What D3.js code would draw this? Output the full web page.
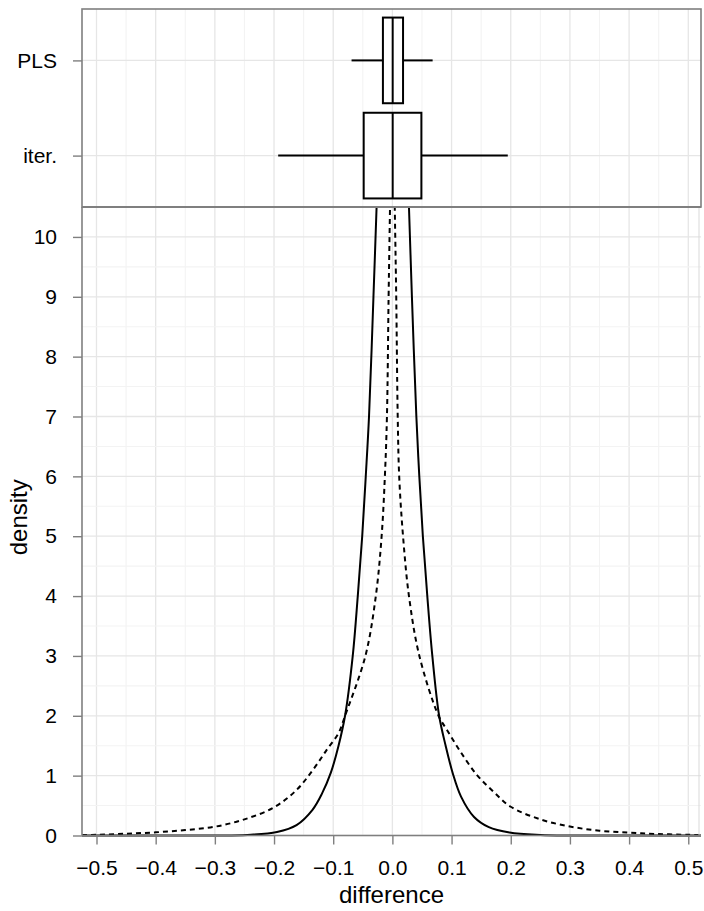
<!DOCTYPE html>
<html>
<head>
<meta charset="utf-8">
<script src="https://cdn.jsdelivr.net/npm/d3@7"></script>
<style>
  body { margin: 0; background: #fff; }
  text { font-family: "Liberation Sans", Arial, sans-serif; fill: #000; }
</style>
</head>
<body>
<script>
// axis settings
var xDomain = [-0.5245, 0.5215];
var yDomain = [0, 10.5];
var xTicks = [-0.5, -0.4, -0.3, -0.2, -0.1, 0.0, 0.1, 0.2, 0.3, 0.4, 0.5];
var yTicks = [0, 1, 2, 3, 4, 5, 6, 7, 8, 9, 10];

// box plots (top panel)
var groups = ["PLS", "iter."];
var boxLow = [-0.069, -0.193];
var boxQ1 = [-0.016, -0.0485];
var boxMed = [0.0005, 0.0005];
var boxQ3 = [0.018, 0.049];
var boxHigh = [0.068, 0.195];

// density of PLS differences (solid)
var plsX = [-0.5245, -0.30, -0.245, -0.195, -0.162, -0.135, -0.119, -0.104, -0.091, -0.080, -0.067, -0.0585, -0.051, -0.045, -0.0395, -0.032, -0.0267, -0.015, 0,
            0.015, 0.028, 0.033, 0.0405, 0.0455, 0.0515, 0.059, 0.0675, 0.079, 0.090, 0.102, 0.116, 0.138, 0.163, 0.198, 0.25, 0.30, 0.5215];
var plsY = [0, 0, 0.01, 0.06, 0.175, 0.43, 0.70, 1.05, 1.5, 2.0, 3.0, 4.0, 5.0, 6.0, 7.0, 9.0, 10.5, 14, 17.5,
            14, 10.5, 9.0, 7.0, 6.0, 5.0, 4.0, 3.0, 2.0, 1.5, 1.04, 0.65, 0.31, 0.14, 0.05, 0.01, 0, 0];

// density of iterative differences (dashed)
var iterX = [-0.5245, -0.5, -0.45, -0.4, -0.35, -0.3, -0.25, -0.2, -0.162, -0.134, -0.111, -0.091, -0.080, -0.0456, -0.028, -0.0182, -0.0127, -0.0092, -0.0064, -0.004, 0,
             0.004, 0.0065, 0.009, 0.0115, 0.018, 0.028, 0.0456, 0.078, 0.0925, 0.115, 0.143, 0.171, 0.2, 0.25, 0.3, 0.35, 0.4, 0.446, 0.5, 0.5215];
var iterY = [0.008, 0.012, 0.03, 0.053, 0.09, 0.147, 0.27, 0.47, 0.76, 1.1, 1.43, 1.71, 2.0, 3.0, 4.0, 5.0, 6.0, 7.0, 9.0, 10.5, 13,
             10.5, 9.0, 7.0, 6.0, 5.0, 4.0, 3.0, 2.0, 1.76, 1.40, 1.01, 0.73, 0.48, 0.27, 0.15, 0.08, 0.047, 0.025, 0.012, 0.008];

var svg = d3.select("body").append("svg")
    .attr("width", 704)
    .attr("height", 911);

var pLeft = 82, pRight = 701, pTop = 9, pSplit = 207, pBottom = 835.5;
var axisGrey = "#7f7f7f";

var x = d3.scaleLinear().domain(xDomain).range([pLeft, pRight]);
var y = d3.scaleLinear().domain(yDomain).range([pBottom, pSplit]);
var yb = d3.scalePoint().domain(groups).range([pTop, pSplit]).padding(0.54);

var minorX = d3.range(-0.55, 0.56, 0.1).map(function (d) { return +d.toFixed(2); })
    .filter(function (d) { return d > xDomain[0] && d < xDomain[1]; });
var minorY = d3.range(0.5, 10.5, 1);

// grid, both panels
var grid = svg.append("g");
[[pTop, pSplit], [pSplit, pBottom]].forEach(function (p) {
  grid.selectAll(null).data(minorX).enter().append("line")
      .attr("x1", x).attr("x2", x).attr("y1", p[0]).attr("y2", p[1])
      .attr("stroke", "#f3f3f3").attr("stroke-width", 1.1);
  grid.selectAll(null).data(xTicks).enter().append("line")
      .attr("x1", x).attr("x2", x).attr("y1", p[0]).attr("y2", p[1])
      .attr("stroke", "#e6e6e6").attr("stroke-width", 1.3);
});
grid.selectAll(null).data(minorY).enter().append("line")
    .attr("x1", pLeft).attr("x2", pRight).attr("y1", y).attr("y2", y)
    .attr("stroke", "#f3f3f3").attr("stroke-width", 1.1);
grid.selectAll(null).data(yTicks).enter().append("line")
    .attr("x1", pLeft).attr("x2", pRight).attr("y1", y).attr("y2", y)
    .attr("stroke", "#e6e6e6").attr("stroke-width", 1.3);
grid.selectAll(null).data(groups).enter().append("line")
    .attr("x1", pLeft).attr("x2", pRight).attr("y1", yb).attr("y2", yb)
    .attr("stroke", "#e6e6e6").attr("stroke-width", 1.3);

// box plots
var bw = yb.step() * 0.9;
var boxes = svg.append("g").selectAll("g")
    .data(groups).enter().append("g")
    .attr("fill", "none").attr("stroke", "#000").attr("stroke-width", 2);
boxes.append("line")
    .attr("x1", function (d, i) { return x(boxLow[i]); })
    .attr("x2", function (d, i) { return x(boxQ1[i]); })
    .attr("y1", yb).attr("y2", yb);
boxes.append("line")
    .attr("x1", function (d, i) { return x(boxQ3[i]); })
    .attr("x2", function (d, i) { return x(boxHigh[i]); })
    .attr("y1", yb).attr("y2", yb);
boxes.append("rect")
    .attr("x", function (d, i) { return x(boxQ1[i]); })
    .attr("width", function (d, i) { return x(boxQ3[i]) - x(boxQ1[i]); })
    .attr("y", function (d) { return yb(d) - bw / 2; })
    .attr("height", bw)
    .attr("fill", "#fff");
boxes.append("line")
    .attr("x1", function (d, i) { return x(boxMed[i]); })
    .attr("x2", function (d, i) { return x(boxMed[i]); })
    .attr("y1", function (d) { return yb(d) - bw / 2; })
    .attr("y2", function (d) { return yb(d) + bw / 2; });

// density curves
svg.append("clipPath").attr("id", "clip")
  .append("rect").attr("x", pLeft).attr("y", pSplit).attr("width", pRight - pLeft).attr("height", pBottom - pSplit + 2);

var line = d3.line()
    .x(function (d) { return x(d[0]); })
    .y(function (d) { return y(Math.max(0, d[1])); })
    .curve(d3.curveCatmullRom.alpha(0.5));

var curves = svg.append("g").attr("clip-path", "url(#clip)")
    .attr("fill", "none").attr("stroke", "#000").attr("stroke-width", 2);
curves.append("path")
    .attr("d", line(d3.zip(plsX, plsY)));
curves.append("path")
    .attr("stroke-dasharray", "5,4")
    .attr("d", line(d3.zip(iterX, iterY)));

// axes
var xAxis = svg.append("g")
    .attr("transform", "translate(0," + pBottom + ")")
    .call(d3.axisBottom(x).tickValues(xTicks).tickSize(9).tickSizeOuter(0).tickPadding(16)
      .tickFormat(d3.format(".1f")));
var yAxis = svg.append("g")
    .attr("transform", "translate(" + pLeft + ",0)")
    .call(d3.axisLeft(y).tickValues(yTicks).tickSize(9).tickSizeOuter(0).tickPadding(16));
var gAxis = svg.append("g")
    .attr("transform", "translate(" + pLeft + ",0)")
    .call(d3.axisLeft(yb).tickSize(9).tickSizeOuter(0).tickPadding(16));

[xAxis, yAxis, gAxis].forEach(function (a) {
  a.selectAll("text").style("font-size", "21px").attr("fill", "#000");
  a.selectAll(".tick line").attr("stroke", axisGrey).attr("stroke-width", 1.4);
  a.select(".domain").remove();
});

// panel frames
svg.append("rect")
    .attr("x", pLeft).attr("y", pTop).attr("width", pRight - pLeft).attr("height", pSplit - pTop)
    .attr("fill", "none").attr("stroke", axisGrey).attr("stroke-width", 1.6);
svg.append("line")
    .attr("x1", pRight - 2).attr("x2", pRight - 2).attr("y1", pSplit).attr("y2", pBottom)
    .attr("stroke", "#d9d9d9").attr("stroke-width", 1);
svg.append("line")
    .attr("x1", pLeft).attr("x2", pLeft).attr("y1", pSplit).attr("y2", pBottom)
    .attr("stroke", axisGrey).attr("stroke-width", 1.6);
svg.append("line")
    .attr("x1", pLeft).attr("x2", pRight).attr("y1", pBottom).attr("y2", pBottom)
    .attr("stroke", axisGrey).attr("stroke-width", 1.6);
svg.append("line")
    .attr("x1", pLeft).attr("x2", pRight).attr("y1", pSplit).attr("y2", pSplit)
    .attr("stroke", axisGrey).attr("stroke-width", 2);

// titles
svg.append("text")
    .attr("text-anchor", "middle")
    .attr("x", (pLeft + pRight) / 2)
    .attr("y", 903)
    .style("font-size", "24px")
    .text("difference");

svg.append("text")
    .attr("text-anchor", "middle")
    .attr("transform", "translate(27," + ((pSplit + pBottom) / 2 - 4) + ") rotate(-90)")
    .style("font-size", "24px")
    .text("density");
</script>
</body>
</html>
